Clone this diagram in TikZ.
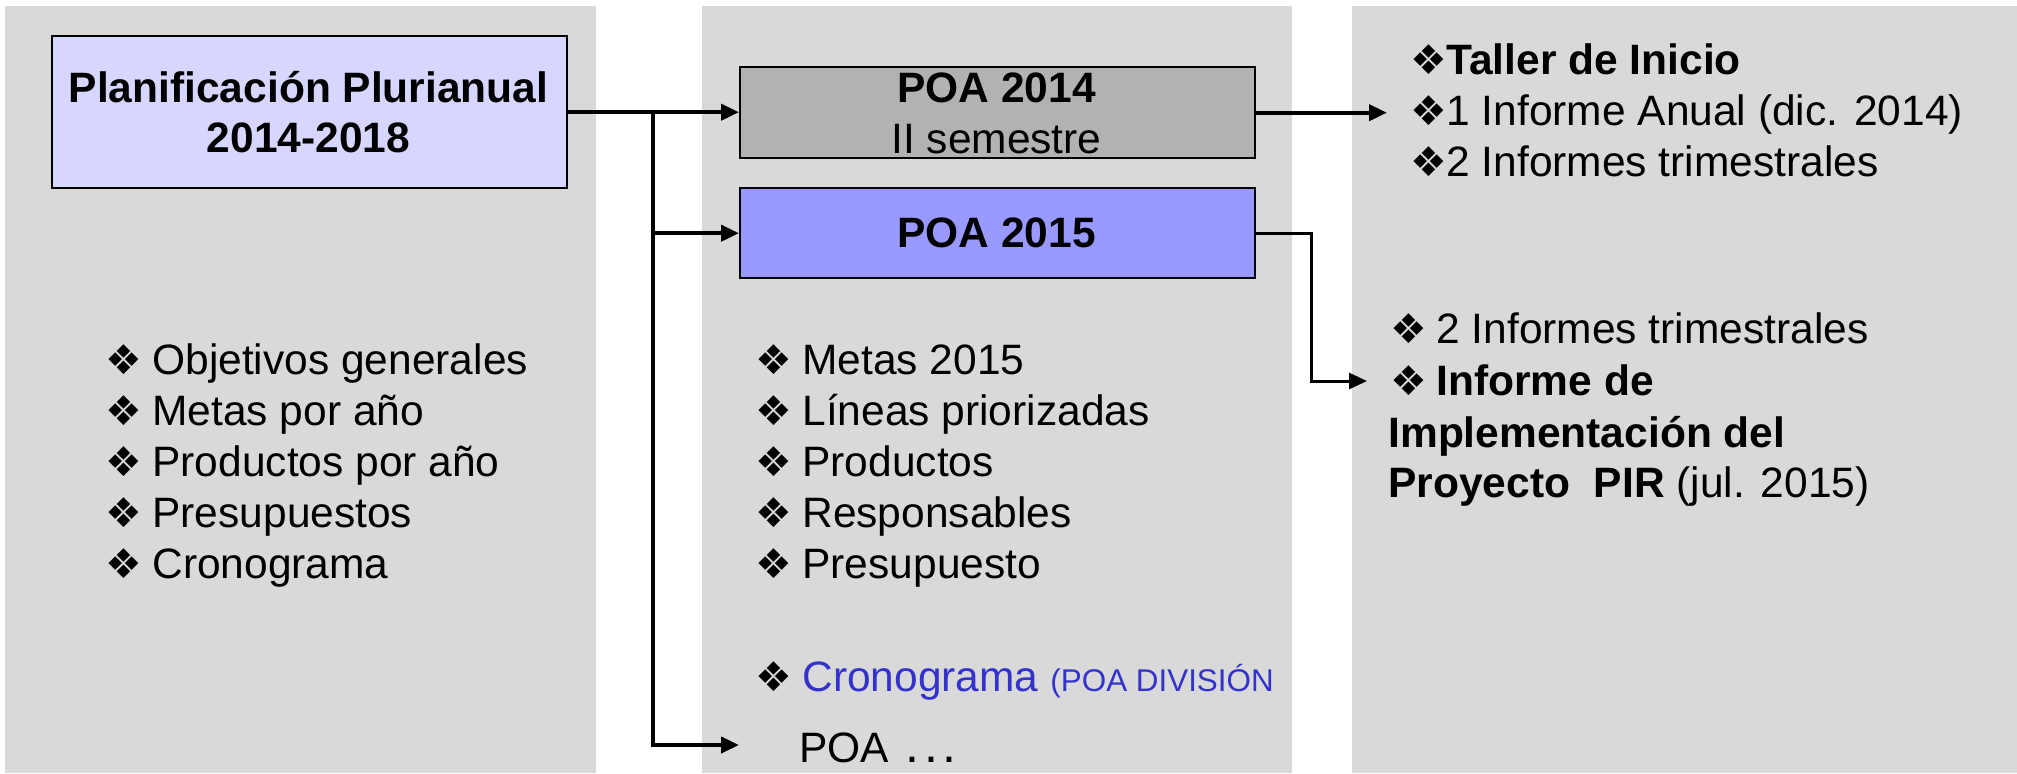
\documentclass[tikz,border=0pt]{standalone}
\usepackage{fontspec}
\setmainfont{Liberation Sans}
\newfontfamily\dejavu{DejaVu Sans}
\usetikzlibrary{arrows.meta}
\definecolor{panelgray}{HTML}{D9D9D9}
\definecolor{lav}{HTML}{D6D6FF}
\definecolor{poagray}{HTML}{B2B2B2}
\definecolor{poablue}{HTML}{9999FF}
\definecolor{txtblue}{HTML}{3333CC}
\newcommand\bigf{\fontsize{21.25}{25}\selectfont}
\newcommand\smallf{\fontsize{15.7}{19}\selectfont}
\begin{document}
\begin{tikzpicture}[x=0.5pt,y=-0.5pt,
  panel/.style={fill=panelgray,draw=none},
  boxnode/.style={draw=black,line width=1.2pt,inner sep=0,anchor=north west,minimum width=257.5pt},
  txt/.style={inner sep=0,anchor=base west,font=\bigf},
  btxt/.style={inner sep=0,anchor=base west,font=\bigf\bfseries},
  ctxt/.style={inner sep=0,anchor=base,font=\bigf},
  cbtxt/.style={inner sep=0,anchor=base,font=\bigf\bfseries},
  bul/.style={inner sep=0,anchor=base west,font=\dejavu\fontsize{20.5}{24}\selectfont},
  conn/.style={line width=2pt,-{Triangle[length=9pt,width=8pt]}},
  thinconn/.style={line width=1.5pt,-{Triangle[length=9pt,width=8pt]}}]
\useasboundingbox (0,0) rectangle (2017,773);
% panels
\fill[panel] (5,6) rectangle (596,773);
\fill[panel] (702,6) rectangle (1292,773);
\fill[panel] (1352,6) rectangle (2017,773);
% boxes
\node[boxnode,fill=lav,minimum height=76pt] (plan) at (51,35) {};
\node[boxnode,fill=poagray,minimum height=45.5pt] (p14) at (739,66) {};
\node[boxnode,fill=poablue,minimum height=45pt] (p15) at (739,187) {};
% box texts
\node[cbtxt] (plant1) at (308.5,102) {Planificación Plurianual};
\node[cbtxt] (plant2) at (308.5,152) {2014-2018};
\node[cbtxt] (p14t1) at (996.5,102) {POA 2014};
\node[ctxt] (p14t2) at (996.5,153) {II semestre};
\node[cbtxt] (p15t) at (996.5,247) {POA 2015};
% left list
\foreach \t [count=\i] in {Objetivos generales, Metas por año, Productos por año, Presupuestos, Cronograma} {
  \node[bul] (lb\i) at (105,{374+51*(\i-1)}) {❖};
  \node[txt] (lt\i) at (152,{374+51*(\i-1)}) {\t};
}
% middle list
\foreach \t [count=\i] in {Metas 2015, Líneas priorizadas, Productos, Responsables, Presupuesto} {
  \node[bul] (mb\i) at (755,{374+51*(\i-1)}) {❖};
  \node[txt] (mt\i) at (802,{374+51*(\i-1)}) {\t};
}
\node[bul] (mb6) at (755,691) {❖};
\node[txt,text=txtblue] (mt6) at (802,691) {Cronograma\ {\smallf(POA DIVISIÓN}};
\node[txt] (poadots) at (799,762) {POA\hspace{8pt}{\fontsize{25}{28}\selectfont.\kern2.5pt.\kern2.5pt.}};
% right top list
\node[bul] (rb1) at (1410,74) {❖};
\node[btxt] (rt1) at (1446,74) {Taller de Inicio};
\node[bul] (rb2) at (1410,125) {❖};
\node[txt] (rt2) at (1446,125) {1 Informe Anual (dic. 2014)};
\node[bul] (rb3) at (1410,176) {❖};
\node[txt] (rt3) at (1446,176) {2 Informes trimestrales};
% right lower list
\node[bul] (sb1) at (1390,343) {❖};
\node[txt] (st1) at (1436,343) {2 Informes trimestrales};
\node[bul] (sb2) at (1390,395) {❖};
\node[btxt] (st2) at (1436,395) {Informe de};
\node[btxt] (st3) at (1388,447) {Implementación del};
\node[txt] (st4) at (1388,497) {\textbf{Proyecto\ \ PIR} (jul. 2015)};
% connectors
\coordinate (j) at (653,111);
\coordinate (dotsin) at (739,745);
\coordinate (r1x) at (1387,0);
\coordinate (r2bend) at (1311,381);
\coordinate (r2in) at (1367,381);
\draw[conn] (plan.east) -- (plan.east -| p14.west);
\draw[conn] (j) |- (dotsin);
\draw[conn] (j |- p15.west) -- (p15.west);
\draw[conn] (p14.east) -- (p14.east -| r1x);
\draw[thinconn] (p15.east) -- (p15.east -| r2bend) |- (r2in);
\end{tikzpicture}
\end{document}
